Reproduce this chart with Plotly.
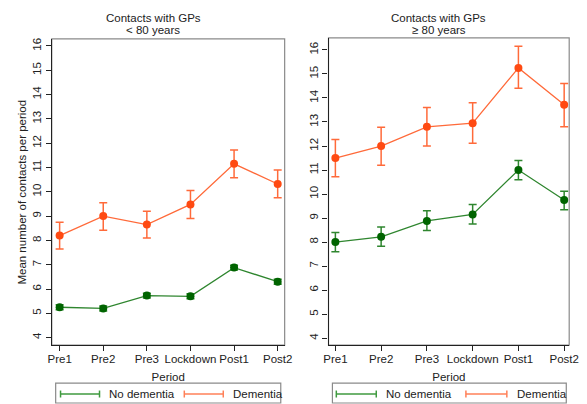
import plotly.graph_objects as go

periods = ["Pre1", "Pre2", "Pre3", "Lockdown", "Post1", "Post2"]

# < 80 years
u80_dem = [8.2, 9.0, 8.65, 9.48, 11.15, 10.32]
u80_dem_lo = [7.65, 8.42, 8.1, 8.9, 10.58, 9.75]
u80_dem_hi = [8.75, 9.55, 9.2, 10.05, 11.72, 10.9]
u80_nod = [5.25, 5.2, 5.73, 5.7, 6.88, 6.3]
u80_nod_lo = [5.15, 5.1, 5.63, 5.6, 6.78, 6.2]
u80_nod_hi = [5.35, 5.3, 5.83, 5.8, 6.98, 6.4]

# >= 80 years
o80_dem = [11.5, 12.0, 12.8, 12.95, 15.25, 13.72]
o80_dem_lo = [10.72, 11.2, 12.0, 12.12, 14.4, 12.8]
o80_dem_hi = [12.27, 12.78, 13.6, 13.8, 16.15, 14.6]
o80_nod = [8.0, 8.22, 8.88, 9.15, 11.0, 9.75]
o80_nod_lo = [7.6, 7.83, 8.48, 8.75, 10.6, 9.35]
o80_nod_hi = [8.4, 8.63, 9.3, 9.57, 11.4, 10.12]

y_ticks = list(range(4, 17))

W, H = 587, 404
def px(x):
    return x / W
def py(y):
    return 1 - y / H

ORANGE_M = "#ff4a12"
ORANGE_L = "#ff6a3a"
GREEN_M = "#006400"
GREEN_L = "#2f862f"
FONT = "Liberation Sans, Arial, sans-serif"
TXT = dict(family=FONT, size=11.5, color="#222")

fig = go.Figure()

def add_series(y, lo, hi, xa, ya, lc, mc):
    xs = list(range(len(periods)))
    fig.add_trace(go.Scatter(
        x=xs, y=y, xaxis=xa, yaxis=ya, mode="lines+markers",
        line=dict(color=lc, width=1.3),
        marker=dict(color=mc, size=8),
        error_y=dict(type="data", symmetric=False,
                     array=[h - v for h, v in zip(hi, y)],
                     arrayminus=[v - l for v, l in zip(y, lo)],
                     color=lc, thickness=1.5, width=4),
        showlegend=False, hoverinfo="skip"))

add_series(u80_nod, u80_nod_lo, u80_nod_hi, "x", "y", GREEN_L, GREEN_M)
add_series(u80_dem, u80_dem_lo, u80_dem_hi, "x", "y", ORANGE_L, ORANGE_M)
add_series(o80_nod, o80_nod_lo, o80_nod_hi, "x2", "y2", GREEN_L, GREEN_M)
add_series(o80_dem, o80_dem_lo, o80_dem_hi, "x2", "y2", ORANGE_L, ORANGE_M)

common_x = dict(tickvals=list(range(len(periods))), ticktext=periods,
                ticks="outside", ticklen=5, tickcolor="#222", tickwidth=1,
                showline=True, linecolor="#222", linewidth=1.3,
                showgrid=False, zeroline=False, tickfont=TXT, ticklabelstandoff=-2,
                title=dict(text="Period", font=TXT, standoff=8))
common_y = dict(tickvals=y_ticks, ticks="outside", ticklen=5, tickcolor="#222",
                tickwidth=1, showline=True, linecolor="#222", linewidth=1.3,
                showgrid=False, zeroline=False, tickangle=-90, tickfont=TXT)

fig.update_layout(
    width=W, height=H, autosize=False,
    margin=dict(l=0, r=0, t=0, b=0, pad=0),
    paper_bgcolor="white", plot_bgcolor="white",
    font=TXT,
    xaxis=dict(domain=[px(48), px(287)], range=[-0.18, 5.16], anchor="y", **common_x),
    yaxis=dict(domain=[py(345), py(38)], range=[3.69, 16.29], anchor="x", **common_y),
    xaxis2=dict(domain=[px(332), px(579)], range=[-0.15, 5.11], anchor="y2", **common_x),
    yaxis2=dict(domain=[py(345), py(37)], range=[3.71, 16.5], anchor="x2", **common_y),
)

shapes = []
for xr, yr in (("x domain", "y domain"), ("x2 domain", "y2 domain")):
    shapes.append(dict(type="rect", xref=xr, yref=yr, x0=0, x1=1, y0=0, y1=1,
                       line=dict(color="#8a8a8a", width=1.2), layer="below"))

annotations = []
def note(x, y, text, **kw):
    d = dict(x=px(x), y=py(y), xref="paper", yref="paper", text=text,
             showarrow=False, font=TXT, xanchor="center", yanchor="middle")
    d.update(kw)
    annotations.append(d)

for cx, sub in ((152, "&lt; 80 years"), (445, "≥ 80 years")):
    note(cx, 17, "Contacts with GPs")
    note(cx, 29.5, sub)
note(17, 191.5, "Mean number of contacts per period", textangle=-90)

legends = [
    dict(box=(52, 283), g=(57, 97), gt=105, o=(184, 224), ot=232),
    dict(box=(336, 576), g=(340, 381), gt=389, o=(473, 515), ot=523),
]
LY = 394
for lg in legends:
    shapes.append(dict(type="rect", xref="paper", yref="paper",
                       x0=px(lg["box"][0]), x1=px(lg["box"][1]), y0=py(403), y1=py(383),
                       line=dict(color="#8a8a8a", width=1.2), fillcolor="white"))
    for (x0, x1), col, tx, label in ((lg["g"], "#3f9a3f", lg["gt"], "No dementia"),
                                     (lg["o"], "#ff8058", lg["ot"], "Dementia")):
        shapes.append(dict(type="line", xref="paper", yref="paper",
                           x0=px(x0), x1=px(x1), y0=py(LY), y1=py(LY),
                           line=dict(color=col, width=1.5)))
        for xc in (x0, x1):
            shapes.append(dict(type="line", xref="paper", yref="paper",
                               x0=px(xc), x1=px(xc), y0=py(LY - 3.5), y1=py(LY + 3.5),
                               line=dict(color=col, width=1.5)))
        note(tx, LY, label, xanchor="left")

fig.update_layout(shapes=shapes, annotations=annotations)
fig.write_html("out.html", config={"displayModeBar": False},
               post_script="document.body.style.margin='0';")
